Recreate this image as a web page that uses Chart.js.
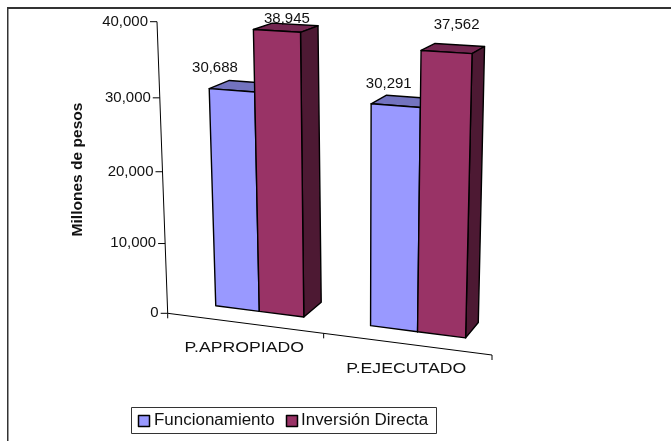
<!DOCTYPE html>
<html><head><meta charset="utf-8">
<style>html,body{margin:0;padding:0;background:#fff}canvas{display:block}</style>
<script src="https://cdn.jsdelivr.net/npm/chart.js@4/dist/chart.umd.min.js"></script>
</head><body>
<canvas id="c" width="671" height="441"></canvas>
<script>
const categories = ['P.APROPIADO', 'P.EJECUTADO'];
const funcionamiento = [30688, 30291];
const inversionDirecta = [38945, 37562];
const yTicks = [0, 10000, 20000, 30000, 40000];
const seriesNames = ['Funcionamiento', 'Inversión Directa'];
const yTitle = 'Millones de pesos';

/* projection of the plot box onto the page */
const corners = {bl:[167.7,313.3], br:[492,355], tr:[501.5,41.5], tl:[157,21.7]};
const vanish = [900,-190], kFront = 0.023, kBack = 0.0515;
const shades = [
  {front:'#9999FF', top:'#7373BF', side:'#4D4D80'},
  {front:'#993366', top:'#732650', side:'#4D1933'}
];
const labelShift = [[[-17,-22],[-7,-21.5]],[[10,-12],[10,-27]]];
const FONT = '"Liberation Sans", Arial, sans-serif';

function makeHomography(c){
  const [x0,y0]=c.bl,[x1,y1]=c.br,[x2,y2]=c.tr,[x3,y3]=c.tl;
  const dx1=x1-x2,dx2=x3-x2,sx=x0-x1+x2-x3,dy1=y1-y2,dy2=y3-y2,sy=y0-y1+y2-y3;
  const det=dx1*dy2-dx2*dy1;
  const g=(sx*dy2-dx2*sy)/det,h=(dx1*sy-sx*dy1)/det;
  const a=x1-x0+g*x1,b=x3-x0+h*x3,d=y1-y0+g*y1,e=y3-y0+h*y3;
  return (u,v)=>{const q=g*u+h*v+1;return [(a*u+b*v+x0)/q,(d*u+e*v+y0)/q];};
}
const H = makeHomography(corners);
const toDepth=(p,k)=>[p[0]+k*(vanish[0]-p[0]),p[1]+k*(vanish[1]-p[1])];

function stretched(ctx,text,x,y,size,sx,opts={}){
  ctx.save();
  ctx.translate(x,y);
  if(opts.rot) ctx.rotate(opts.rot);
  ctx.scale(sx,1);
  ctx.font=(opts.bold?'bold ':'')+size+'px '+FONT;
  ctx.textAlign=opts.align||'center';
  ctx.textBaseline='middle';
  ctx.fillStyle='#111';
  ctx.fillText(text,0,0);
  ctx.restore();
}
function poly(ctx,pts,fill){
  ctx.beginPath();
  pts.forEach((p,i)=>i?ctx.lineTo(p[0],p[1]):ctx.moveTo(p[0],p[1]));
  ctx.closePath();
  ctx.fillStyle=fill;ctx.fill();
  ctx.strokeStyle='#000';ctx.lineWidth=1.4;ctx.lineJoin='round';ctx.stroke();
}
function line(ctx,a,b,w){
  ctx.beginPath();ctx.moveTo(a[0],a[1]);ctx.lineTo(b[0],b[1]);
  ctx.lineWidth=w||1;ctx.strokeStyle='#000';ctx.stroke();
}

const perspective = {
  id:'perspective',
  beforeDatasetDraw(){return false;},
  beforeDatasetsDraw(chart){
    const ctx=chart.ctx,a=chart.chartArea,ys=chart.scales.y,xs=chart.scales.x;
    const uOf=x=>(x-a.left)/a.width, vOf=y=>(a.bottom-y)/a.height;
    ctx.save();
    /* page frame: top and left edges only */
    ctx.fillStyle='#333';
    ctx.fillRect(7,7,664,2);
    ctx.fillRect(7,7,1.5,434);

    /* value axis */
    line(ctx,H(0,0),[H(0,0)[0],H(0,0)[1]+5]);
    line(ctx,H(0,0),H(0,1));
    ys.ticks.forEach(t=>{
      const p=H(0,vOf(ys.getPixelForValue(t.value)));
      line(ctx,p,[p[0]-7,p[1]]);
      stretched(ctx,t.value.toLocaleString('en-US'),p[0]-9,p[1],14,1.07,{align:'right'});
    });
    stretched(ctx,yTitle,78,169.5,14,1.11,{bold:true,rot:-Math.PI/2});

    /* category axis */
    line(ctx,H(0,0),H(1,0));
    [0.5,1].forEach(u=>{const p=H(u,0);line(ctx,p,[p[0],p[1]+5]);});
    categories.forEach((c,i)=>{
      const p=H(uOf(xs.getPixelForValue(i)),0);
      stretched(ctx,c,p[0],p[1]+25,15.5,1.14);
    });

    /* boxes */
    categories.forEach((_,i)=>{
      chart.data.datasets.forEach((ds,s)=>{
        const b=chart.getDatasetMeta(s).data[i];
        const ul=uOf(b.x-b.width/2),ur=uOf(b.x+b.width/2),v=vOf(b.y),v0=vOf(b.base);
        const F=(u,w)=>toDepth(H(u,w),kFront),B=(u,w)=>toDepth(H(u,w),kBack);
        const c=shades[s];
        poly(ctx,[F(ul,v),B(ul,v),B(ur,v),F(ur,v)],c.top);
        poly(ctx,[F(ur,v0),F(ur,v),B(ur,v),B(ur,v0)],c.side);
        poly(ctx,[F(ul,v0),F(ul,v),F(ur,v),F(ur,v0)],c.front);
      });
    });
    /* value labels */
    categories.forEach((_,i)=>{
      chart.data.datasets.forEach((ds,s)=>{
        const b=chart.getDatasetMeta(s).data[i];
        const ul=uOf(b.x-b.width/2),ur=uOf(b.x+b.width/2),v=vOf(b.y);
        const l=toDepth(H(ul,v),kFront),r=toDepth(H(ur,v),kFront);
        const sh=labelShift[s][i];
        stretched(ctx,ds.data[i].toLocaleString('en-US'),(l[0]+r[0])/2+sh[0],(l[1]+r[1])/2+sh[1],14,1.07);
      });
    });

    /* legend */
    ctx.fillStyle='#fff';ctx.strokeStyle='#333';ctx.lineWidth=1;
    ctx.fillRect(131.5,407.5,305,26);ctx.strokeRect(131.5,407.5,305,26);
    const sw=[138,286],tx=[154,301];
    chart.data.datasets.forEach((ds,s)=>{
      ctx.fillStyle=shades[s].front;ctx.strokeStyle='#000';ctx.lineWidth=1.5;
      ctx.fillRect(sw[s]+.5,415.5,11,11);ctx.strokeRect(sw[s]+.5,415.5,11,11);
      stretched(ctx,ds.label,tx[s],421,16,1.06,{align:'left'});
    });
    ctx.restore();
  }
};

new Chart(document.getElementById('c'),{
  type:'bar',
  data:{labels:categories,datasets:[
    {label:seriesNames[0],data:funcionamiento,backgroundColor:shades[0].front,categoryPercentage:0.578,barPercentage:1},
    {label:seriesNames[1],data:inversionDirecta,backgroundColor:shades[1].front,categoryPercentage:0.578,barPercentage:1}
  ]},
  options:{
    responsive:false,animation:false,
    layout:{padding:{left:160,right:160,top:20,bottom:100}},
    plugins:{legend:{display:false},tooltip:{enabled:false},title:{display:false}},
    scales:{
      x:{display:false},
      y:{display:false,min:0,max:40000,afterBuildTicks(s){s.ticks=yTicks.map(value=>({value}));}}
    }
  },
  plugins:[perspective]
});
</script>
</body></html>
